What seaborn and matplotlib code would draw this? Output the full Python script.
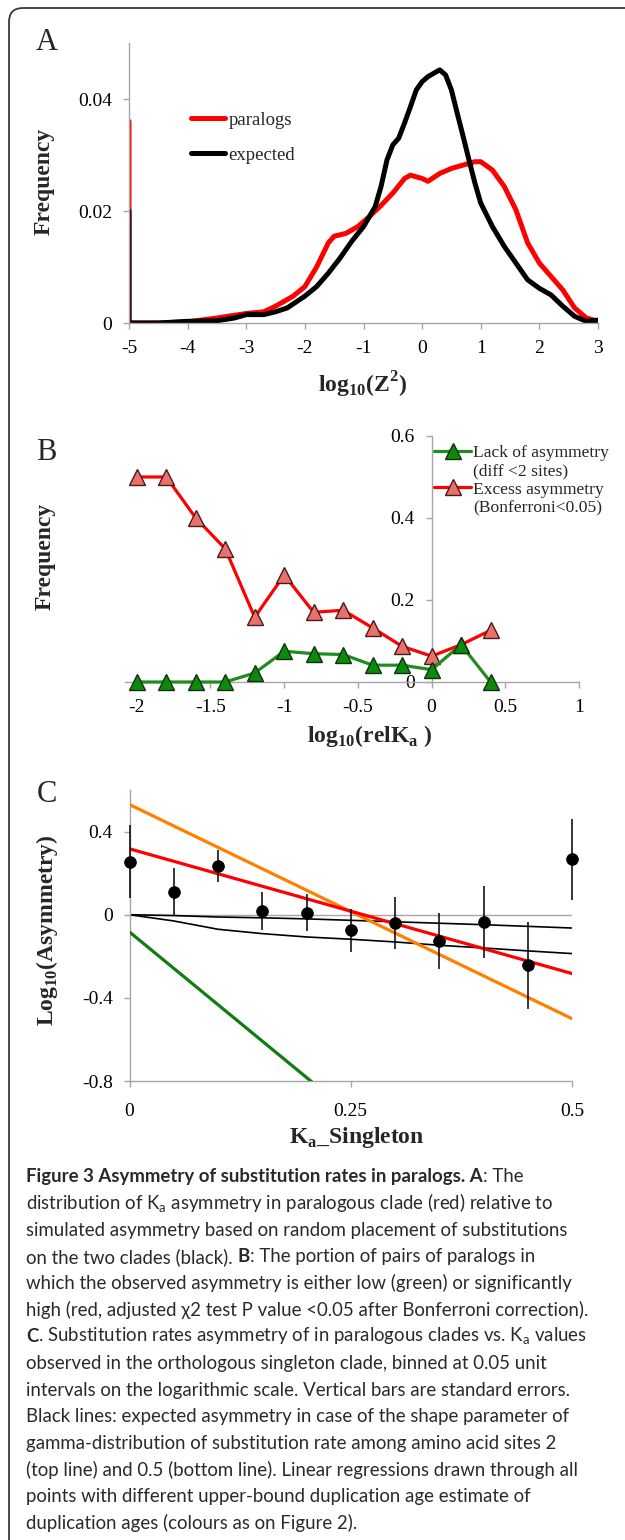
import matplotlib
matplotlib.use("Agg")
import matplotlib.pyplot as plt
import seaborn as sns
from matplotlib.lines import Line2D
from matplotlib.patches import FancyBboxPatch
from matplotlib.ticker import FuncFormatter

W, H = 625, 1540

# Panel A: frequency of log10(Z^2), observed paralogs vs expected
par_x = [-5, -5, -4.5, -4.0, -3.5, -3.0, -2.7, -2.5, -2.2, -2.0, -1.8, -1.6, -1.5, -1.3,
         -1.1, -0.9, -0.7, -0.5, -0.3, -0.2, 0.0, 0.1, 0.3, 0.5, 0.7, 0.9, 1.0, 1.2,
         1.4, 1.6, 1.8, 2.0, 2.2, 2.4, 2.6, 2.8, 3.0]
par_y = [0.036, 0, 0, 0.0002, 0.0009, 0.0017, 0.0020, 0.0030, 0.0048, 0.0065, 0.0100,
         0.0143, 0.0155, 0.0160, 0.0172, 0.0190, 0.0210, 0.0232, 0.0258, 0.0264, 0.0258,
         0.0253, 0.0267, 0.0276, 0.0282, 0.0288, 0.0288, 0.0273, 0.0244, 0.0202, 0.0143,
         0.0107, 0.0083, 0.0059, 0.0027, 0.0009, 0.0003]
exp_x = [-5, -5, -4.5, -4.0, -3.5, -3.2, -3.0, -2.7, -2.5, -2.3, -2.0, -1.8, -1.6, -1.4,
         -1.2, -1.0, -0.8, -0.7, -0.6, -0.5, -0.4, -0.3, -0.2, -0.1, 0.0, 0.1, 0.3, 0.4,
         0.5, 0.6, 0.7, 0.8, 0.9, 1.0, 1.2, 1.4, 1.6, 1.8, 2.0, 2.2, 2.4, 2.6, 2.8, 3.0]
exp_y = [0.020, 0, 0, 0.0003, 0.0004, 0.0009, 0.0015, 0.0015, 0.0020, 0.0027, 0.0048,
         0.0065, 0.0089, 0.0116, 0.0146, 0.0172, 0.0208, 0.0244, 0.0291, 0.0318, 0.0330,
         0.0357, 0.0386, 0.0416, 0.0431, 0.0440, 0.0452, 0.0443, 0.0416, 0.0374, 0.0333,
         0.0291, 0.0250, 0.0214, 0.0172, 0.0137, 0.0107, 0.0077, 0.0062, 0.0050, 0.0030,
         0.0012, 0.0003, 0.0005]

# Panel B: portion of paralog pairs vs log10(relKa)
relka = [-2.0, -1.8, -1.6, -1.4, -1.2, -1.0, -0.8, -0.6, -0.4, -0.2, 0.0, 0.2, 0.4]
lack = [0, 0, 0, 0, 0.022, 0.075, 0.069, 0.067, 0.041, 0.041, 0.030, 0.091, 0]
excess = [0.50, 0.50, 0.40, 0.325, 0.158, 0.261, 0.170, 0.175, 0.132, 0.087, 0.063, 0.091, 0.126]

# Panel C: log10(asymmetry) vs Ka of singleton
ka = [0, 0.05, 0.10, 0.15, 0.20, 0.25, 0.30, 0.35, 0.40, 0.45, 0.50]
asym = [0.256, 0.109, 0.232, 0.018, 0.010, -0.075, -0.038, -0.126, -0.035, -0.243, 0.266]
asym_se = [0.175, 0.115, 0.077, 0.090, 0.090, 0.104, 0.125, 0.134, 0.172, 0.210, 0.195]
expected_a2 = [0, -0.004, -0.011, -0.015, -0.020, -0.027, -0.034, -0.041, -0.048, -0.056, -0.064]
expected_a05 = [0, -0.030, -0.070, -0.091, -0.107, -0.118, -0.131, -0.147, -0.160, -0.174, -0.187]
reg_intercepts = [0.53, 0.317, -0.083]
reg_slopes = [-2.06, -1.20, -3.50]
reg_colors = ["#ff7f00", "#ff0000", "#0f7d0f"]

caption = [
    [("Figure 3 Asymmetry of substitution rates in paralogs. A", "bold"), (": The", "normal")],
    [("distribution of K$_\\mathregular{a}$ asymmetry in paralogous clade (red) relative to", "normal")],
    [("simulated asymmetry based on random placement of substitutions", "normal")],
    [("on the two clades (black). ", "normal"), ("B", "bold"), (": The portion of pairs of paralogs in", "normal")],
    [("which the observed asymmetry is either low (green) or significantly", "normal")],
    [("high (red, adjusted \u03c72 test P value <0.05 after Bonferroni correction).", "normal")],
    [("C", "bold"), (". Substitution rates asymmetry of in paralogous clades vs. K$_\\mathregular{a}$ values", "normal")],
    [("observed in the orthologous singleton clade, binned at 0.05 unit", "normal")],
    [("intervals on the logarithmic scale. Vertical bars are standard errors.", "normal")],
    [("Black lines: expected asymmetry in case of the shape parameter of", "normal")],
    [("gamma-distribution of substitution rate among amino acid sites 2", "normal")],
    [("(top line) and 0.5 (bottom line). Linear regressions drawn through all", "normal")],
    [("points with different upper-bound duplication age estimate of", "normal")],
    [("duplication ages (colours as on Figure 2).", "normal")],
]

sns.set_style("white")
plt.rcParams["font.family"] = ["Liberation Serif", "DejaVu Serif"]
GRAY = "#a6a6a6"

fig = plt.figure(figsize=(W / 100, H / 100), dpi=100)

# background layer in pixel coordinates: frame, panel letters, caption
bg = fig.add_axes([0, 0, 1, 1])
bg.set_xlim(0, W)
bg.set_ylim(H, 0)
bg.axis("off")
bg.add_patch(FancyBboxPatch((9, 8), 700, 1600, boxstyle="round,pad=0,rounding_size=14",
                            fc="none", ec="#3a3a3a", lw=1.3))
for letter, (lx, ly) in zip("ABC", [(47, 43), (46, 452), (47, 795)]):
    bg.text(lx, ly, letter, fontsize=22, ha="center", va="center")


def px_axes(left, top, right, bottom):
    return fig.add_axes([left / W, 1 - bottom / H, (right - left) / W, (bottom - top) / H])


def style(ax):
    ax.set_facecolor("none")
    for s in ["top", "right"]:
        ax.spines[s].set_visible(False)
    for s in ["left", "bottom"]:
        ax.spines[s].set_color(GRAY)
        ax.spines[s].set_linewidth(1)
    ax.tick_params(bottom=True, left=True, direction="out", length=4, width=1,
                   color=GRAY, labelsize=14, pad=8, labelcolor="black")
    fmt = FuncFormatter(lambda v, p: f"{v:g}")
    ax.xaxis.set_major_formatter(fmt)
    ax.yaxis.set_major_formatter(fmt)


label_kw = dict(fontsize=17, fontweight="bold")

# ---- Panel A
axA = px_axes(129, 43, 598, 323)
style(axA)
sns.lineplot(x=par_x, y=par_y, estimator=None, sort=False, color="#ff0000", lw=3.6,
             ax=axA, solid_joinstyle="round")
sns.lineplot(x=exp_x, y=exp_y, estimator=None, sort=False, color="black", lw=3.6,
             ax=axA, solid_joinstyle="round")
axA.set_xlim(-5, 3)
axA.set_ylim(0, 0.05)
axA.set_xticks(range(-5, 4))
axA.set_yticks([0, 0.02, 0.04])
axA.set_xlabel("log$_\\mathregular{10}$(Z$^\\mathregular{2}$)", **label_kw)
axA.set_ylabel("Frequency", **label_kw)
axA.xaxis.set_label_coords(0.499, -0.168)
axA.yaxis.set_label_coords(-0.158, 0.507)
hA = [Line2D([], [], color="#ff0000", lw=3.6, solid_capstyle="round"),
      Line2D([], [], color="black", lw=3.6, solid_capstyle="round")]
axA.legend(hA, ["paralogs", "expected"], loc="upper left", bbox_to_anchor=(0.132, 0.755),
           frameon=False, fontsize=13.5, handlelength=1.8, handletextpad=0.2,
           labelspacing=0.95, borderpad=0, borderaxespad=0)

# ---- Panel B
axB = px_axes(125, 436, 579, 682)
style(axB)
axB.spines["left"].set_position(("data", 0))
sns.lineplot(x=relka, y=lack, color="#1e8c1e", lw=2.3, marker="^", markersize=11,
             markerfacecolor="#0b8a0b", markeredgecolor="#103010", markeredgewidth=1,
             clip_on=False, zorder=4, ax=axB)
sns.lineplot(x=relka, y=excess, color="#ff0000", lw=2.3, marker="^", markersize=11,
             markerfacecolor="#e8716b", markeredgecolor="#4a1a1a", markeredgewidth=1,
             clip_on=False, zorder=3, ax=axB)
axB.set_xlim(-2.08, 1.0)
axB.set_ylim(0, 0.6)
axB.set_xticks([-2, -1.5, -1, -0.5, 0, 0.5, 1])
axB.set_yticks([0, 0.2, 0.4, 0.6])
axB.set_xlabel("log$_\\mathregular{10}$(relK$_\\mathregular{a}$ )", **label_kw)
axB.set_ylabel("Frequency", **label_kw)
axB.xaxis.set_label_coords(0.54, -0.165)
axB.yaxis.set_label_coords(-0.152, 0.512)
hB = [Line2D([], [], color="#1e8c1e", lw=2.3, marker="^", markersize=11,
             markerfacecolor="#0b8a0b", markeredgecolor="#103010"),
      Line2D([], [], ls="none"),
      Line2D([], [], color="#ff0000", lw=2.3, marker="^", markersize=11,
             markerfacecolor="#e8716b", markeredgecolor="#4a1a1a"),
      Line2D([], [], ls="none")]
axB.legend(hB, ["Lack of asymmetry", "(diff <2 sites)", "Excess asymmetry", "(Bonferroni<0.05)"],
           loc="upper left", bbox_to_anchor=(0.68, 0.965), frameon=False, fontsize=12.6,
           handlelength=2.15, handletextpad=0.1, labelspacing=0.12, borderpad=0,
           borderaxespad=0, markerscale=1)

# ---- Panel C
axC = px_axes(129.5, 790, 572, 1081)
style(axC)
axC.axhline(0, color=GRAY, lw=1, zorder=1)
sns.lineplot(x=ka, y=expected_a2, color="black", lw=1.2, ax=axC, zorder=2)
sns.lineplot(x=ka, y=expected_a05, color="black", lw=1.2, ax=axC, zorder=2)
for b0, b1, c in zip(reg_intercepts, reg_slopes, reg_colors):
    xs = [ka[0], ka[-1]]
    sns.lineplot(x=xs, y=[b0 + b1 * v for v in xs], color=c, lw=2.3, ax=axC, zorder=3)
axC.errorbar(ka, asym, yerr=asym_se, fmt="none", ecolor="black", elinewidth=1.1,
             capsize=0, zorder=4, clip_on=False)
sns.scatterplot(x=ka, y=asym, color="black", s=70, edgecolor="black", ax=axC,
                zorder=5, clip_on=False)
axC.set_xlim(0, 0.5)
axC.set_ylim(-0.8, 0.6)
axC.set_xticks([0, 0.25, 0.5])
axC.set_yticks([-0.8, -0.4, 0, 0.4])
axC.tick_params(axis="x", pad=12)
axC.set_xlabel("K$_\\mathregular{a}$_Singleton", **label_kw)
axC.set_ylabel("Log$_\\mathregular{10}$(Asymmetry)", **label_kw)
axC.xaxis.set_label_coords(0.514, -0.15)
axC.yaxis.set_label_coords(-0.157, 0.519)

# ---- Caption
renderer = fig.canvas.get_renderer()
for i, runs in enumerate(caption):
    x = 26
    y = 1176.7 + 26.67 * i
    for txt, weight in runs:
        t = bg.text(x, y, txt, fontsize=13.4, fontweight=weight, family="Lato",
                    color="#2a2a2a", ha="left", va="center")
        x += t.get_window_extent(renderer).width

fig.savefig("out.png", dpi=100)
